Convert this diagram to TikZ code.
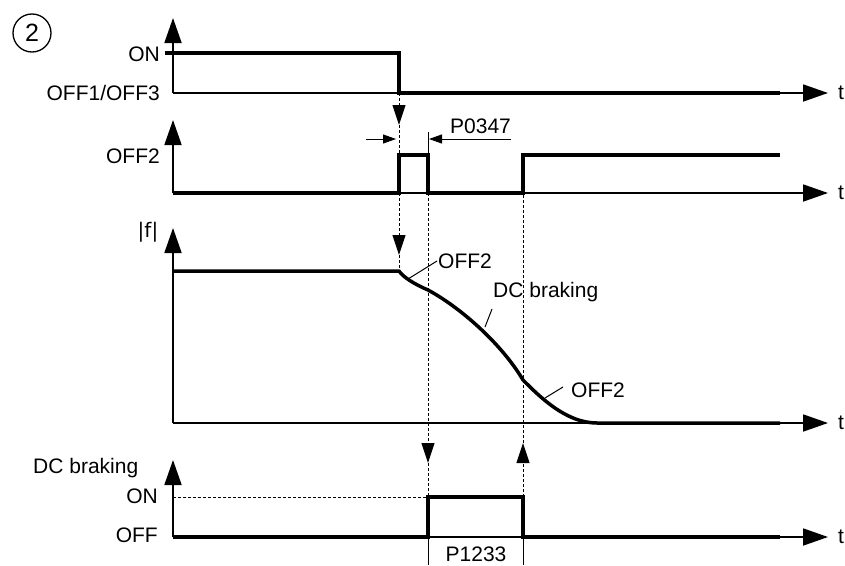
\documentclass[tikz,border=0pt]{standalone}
\usepackage{fontspec}
\setmainfont{Liberation Sans}
\newfontfamily\djv{DejaVu Sans}
\usetikzlibrary{arrows.meta}
\tikzset{
  lbl/.style={inner sep=0pt, font=\fontsize{21}{25}\selectfont},
  axisline/.style={line width=1.8pt, -{Triangle[length=25pt,width=17pt]}},
  sig/.style={line width=3.5pt, line join=miter},
  dsh/.style={line width=1pt, dash pattern=on 3pt off 2pt},
  dsharrow/.style={dsh, -{Triangle[length=20pt,width=13pt]}},
  dimarrow/.style={line width=1pt, -{Triangle[length=13pt,width=9pt]}},
  thinline/.style={line width=1pt},
}
\begin{document}
\begin{tikzpicture}[x=1pt,y=-1pt]
\useasboundingbox (0,0) rectangle (845,565);
% ---------- circle 2
\node[inner sep=0pt, font=\fontsize{25}{28}\selectfont, draw, circle, line width=1.3pt, minimum size=38pt] (num) at (32,33) {2};
% ---------- key coordinates
\coordinate (o1) at (173,93);  \coordinate (y1) at (173,18);  \coordinate (t1) at (828,93);
\coordinate (o2) at (173,193); \coordinate (y2) at (173,120); \coordinate (t2) at (828,193);
\coordinate (o3) at (173,423); \coordinate (y3) at (173,228); \coordinate (t3) at (828,423);
\coordinate (o4) at (173,537); \coordinate (y4) at (173,460); \coordinate (t4) at (828,537);
% ---------- axes
\draw[axisline] (o1) -- (y1);
\draw[axisline] (o1) -- (t1);
\draw[axisline] (o2) -- (y2);
\draw[axisline] (o2) -- (t2);
\draw[axisline] (o3) -- (y3);
\draw[axisline] (o3) -- (t3);
\draw[axisline] (o4) -- (y4);
\draw[axisline] (o4) -- (t4);
% t labels
\node[lbl, anchor=base west] (tl1) at (838,99.5) {t};
\node[lbl, anchor=base west] (tl2) at (838,199.5) {t};
\node[lbl, anchor=base west] (tl3) at (838,429.5) {t};
\node[lbl, anchor=base west] (tl4) at (838,543.5) {t};
% ---------- axis labels
\node[lbl, anchor=base east] (lon1) at (160,61) {ON};
\node[lbl, anchor=base east] (loff1) at (160,100) {OFF1/OFF3};
\node[lbl, anchor=base east] (loff2) at (160,163) {OFF2};
\node[inner sep=0pt, font=\djv\fontsize{20}{24}\selectfont] (lf) at (148,232) {|f|};
\node[lbl, anchor=base west] (ldc) at (33,473) {DC braking};
\node[lbl, anchor=base east] (lon4) at (158,503) {ON};
\node[lbl, anchor=base east] (loff4) at (158,542) {OFF};
% ---------- panel 1 signal
\draw[sig] (165,53) -- (399,53) -- (399,93) -- (780,93);
% ---------- panel 2 signal
\draw[sig] (173,193) -- (399,193) -- (399,155) -- (428,155) -- (428,193) -- (523,193) -- (523,155) -- (780,155);
% ---------- panel 3 signal
\draw[sig, line join=round] (172,271) -- (399,271)
   .. controls (403,277) and (414,284) .. (428,290)
   .. controls (463,309) and (503,346) .. (523,380)
   .. controls (540,397) and (566,423) .. (597,423) -- (780,423);
% ---------- panel 4 signal
\draw[sig] (173,537) -- (428,537) -- (428,497) -- (523,497) -- (523,537) -- (780,537);
\draw[dsh] (173,497) -- (428,497);
% ---------- dashed event lines
\draw[dsharrow] (399,93) -- (399,125);
\draw[dsh] (399,125) -- (399,155);
\draw[dsharrow] (399,193) -- (399,255);
\draw[dsh] (399,255) -- (399,271);
\draw[dsharrow] (428,193) -- (428,463);
\draw[dsh] (428,463) -- (428,497);
\draw[dsharrow] (523,497) -- (523,443);
\draw[dsh] (523,443) -- (523,193);
% ---------- P0347 dimension
\draw[thinline] (428,132) -- (428,155);
\draw[dimarrow] (366,139) -- (396,139);
\draw[dimarrow] (511,139) -- (429,139);
\node[lbl, anchor=base west] (p0347) at (450,133) {P0347};
% ---------- P1233 dimension
\draw[thinline] (428,537) -- (428,565);
\draw[thinline] (523,537) -- (523,565);
\node[lbl, anchor=base] (p1233) at (476,561) {P1233};
% ---------- curve labels
\node[lbl, anchor=base west] (c1) at (438,268) {OFF2};
\draw[thinline] (408,279) -- (437,261);
\node[lbl, anchor=base west] (c2) at (493,297) {DC braking};
\draw[thinline] (485,327) -- (492,309);
\node[lbl, anchor=base west] (c3) at (571,397) {OFF2};
\draw[thinline] (545,398) -- (563,387);
\end{tikzpicture}
\end{document}
